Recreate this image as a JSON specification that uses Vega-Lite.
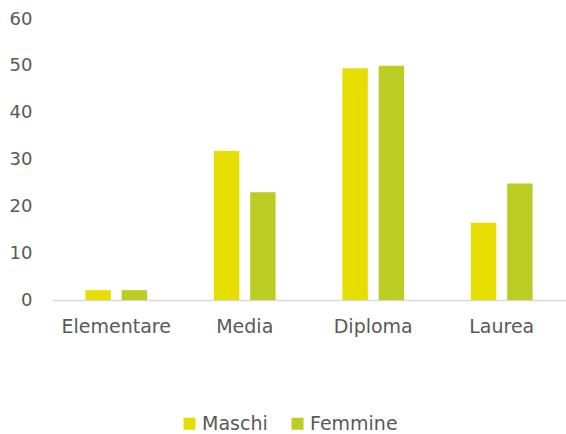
{
  "$schema": "https://vega.github.io/schema/vega-lite/v6.json",
  "width": 514,
  "height": 281,
  "autosize": {"type": "none"},
  "padding": {"left": 52, "top": 19, "right": 0, "bottom": 134},
  "background": "white",
  "config": {
    "view": {"stroke": null},
    "font": "DejaVu Sans"
  },
  "data": {
    "values": [
      {"livello": "Elementare", "sesso": "Maschi", "valore": 2.1},
      {"livello": "Elementare", "sesso": "Femmine", "valore": 2.1},
      {"livello": "Media", "sesso": "Maschi", "valore": 31.8},
      {"livello": "Media", "sesso": "Femmine", "valore": 23.0},
      {"livello": "Diploma", "sesso": "Maschi", "valore": 49.5},
      {"livello": "Diploma", "sesso": "Femmine", "valore": 50.0},
      {"livello": "Laurea", "sesso": "Maschi", "valore": 16.5},
      {"livello": "Laurea", "sesso": "Femmine", "valore": 24.9}
    ]
  },
  "mark": {"type": "bar"},
  "encoding": {
    "x": {
      "field": "livello",
      "type": "nominal",
      "sort": ["Elementare", "Media", "Diploma", "Laurea"],
      "scale": {"paddingInner": 0.52, "paddingOuter": 0.26},
      "axis": {
        "title": null,
        "labelAngle": 0,
        "labelFontSize": 19,
        "labelColor": "#595959",
        "labelPadding": 17,
        "ticks": false,
        "domainColor": "#d9d9d9",
        "domainWidth": 1.5,
        "grid": false
      }
    },
    "xOffset": {
      "field": "sesso",
      "type": "nominal",
      "sort": ["Maschi", "Femmine"],
      "scale": {"paddingInner": 0.3, "paddingOuter": 0}
    },
    "y": {
      "field": "valore",
      "type": "quantitative",
      "scale": {"domain": [0, 60], "nice": false},
      "axis": {
        "title": null,
        "values": [0, 10, 20, 30, 40, 50, 60],
        "labelFontSize": 18,
        "labelColor": "#595959",
        "labelPadding": 20,
        "ticks": false,
        "domain": false,
        "grid": false
      }
    },
    "color": {
      "field": "sesso",
      "type": "nominal",
      "sort": ["Maschi", "Femmine"],
      "scale": {"domain": ["Maschi", "Femmine"], "range": ["#E5DE00", "#BBCC22"]},
      "legend": {
        "title": null,
        "orient": "none",
        "direction": "horizontal",
        "legendX": 128,
        "legendY": 395,
        "symbolType": "square",
        "symbolSize": 144,
        "symbolStrokeWidth": 0,
        "labelFontSize": 19,
        "labelColor": "#595959",
        "labelOffset": 3,
        "columnPadding": 20
      }
    }
  }
}
